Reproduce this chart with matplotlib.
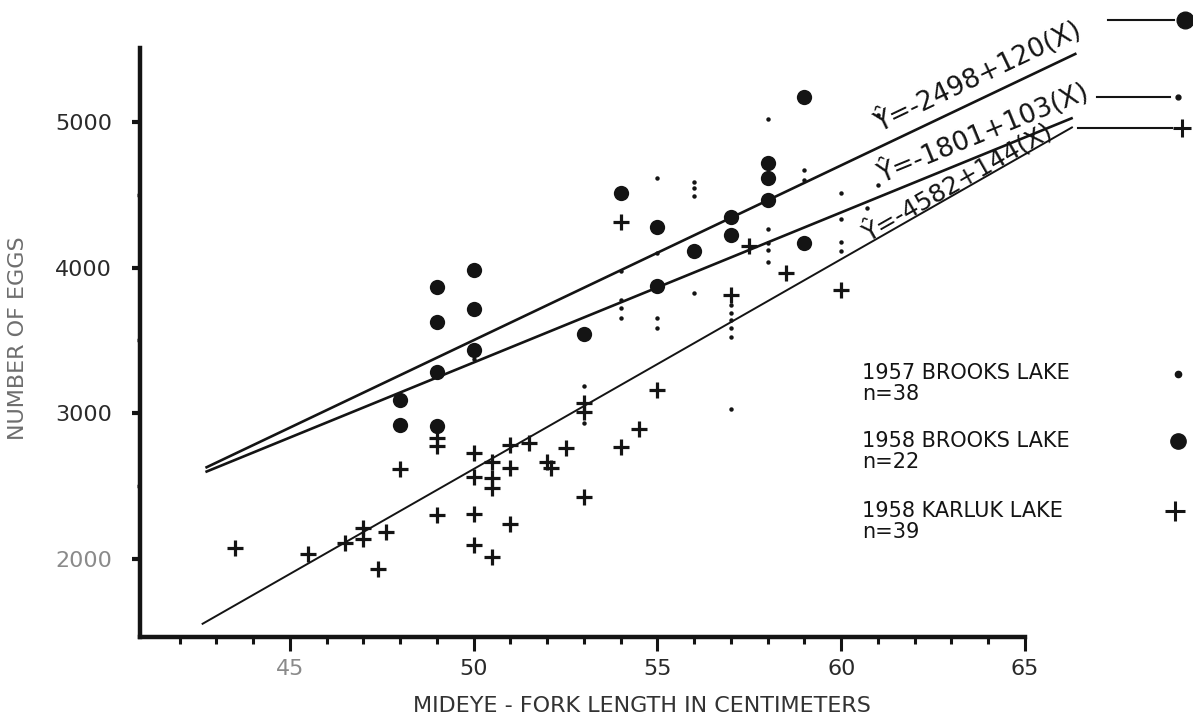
import numpy as np
import matplotlib
matplotlib.use('Agg')
import matplotlib.pyplot as plt

# 1957 Brooks Lake (small dots)
brooks57_len = [55, 56, 56, 56, 58, 59, 60, 61, 61, 58, 58, 58, 58, 60, 60, 60, 60.7,
                56, 57, 57, 57, 57, 57, 57, 54, 54, 55, 55, 53, 53, 54, 55, 54, 59, 50]
brooks57_eggs = [4615, 4590, 4545, 4490, 5020, 4670, 4512, 4567, 5050, 4265, 4169, 4121,
                 4038, 4334, 4176, 4114, 4410, 3825, 3745, 3690, 3640, 3585, 3525, 3030,
                 3722, 3654, 3654, 3586, 3187, 2933, 3980, 4100, 3780, 4600, 3370]

# 1958 Brooks Lake (large dots)
brooks58_len = [48, 48, 49, 49, 49, 49, 50, 50, 50, 53, 54, 55, 55, 56, 57, 57, 58, 58, 58, 59, 59]
brooks58_eggs = [3091, 2920, 3867, 3627, 3283, 2913, 3983, 3716, 3434, 3544, 4512, 4279,
                 3874, 4114, 4347, 4224, 4718, 4615, 4464, 5171, 4169]

# 1958 Karluk Lake (crosses)
karluk58_len = [43.5, 45.5, 46.5, 47.0, 47.0, 47.6, 47.4, 48.0, 49.0, 49.0, 49.0, 50.0, 50.0,
                50.0, 50.0, 50.5, 50.5, 50.5, 50.5, 51.0, 51.5, 51.0, 51.0, 52.0, 52.1, 52.5,
                53.0, 53.0, 53.0, 54.0, 54.5, 55.0, 54.0, 57.5, 58.5, 57.0, 60.0]
karluk58_eggs = [2075, 2035, 2110, 2213, 2137, 2185, 1930, 2618, 2302, 2830, 2775, 2727, 2563,
                 2309, 2096, 2014, 2666, 2556, 2487, 2782, 2796, 2625, 2240, 2666, 2625, 2762,
                 3071, 3009, 2425, 2769, 2892, 3160, 4313, 4148, 3963, 3812, 3846]

# regression lines  Y = a + b*X
fit_labels = ["Ŷ=-2498+120(X)", "Ŷ=-1801+103(X)", "Ŷ=-4582+144(X)"]
fit_a = [-2498, -1801, -4582]
fit_b = [120, 103, 144]

legend_names = ["1957 BROOKS LAKE", "1958 BROOKS LAKE", "1958 KARLUK LAKE"]
legend_n = ["n=38", "n=22", "n=39"]

W, H = 1193, 721
fig = plt.figure(figsize=(W / 100, H / 100), dpi=100)
ax = fig.add_axes([140 / W, (H - 637) / H, 885 / W, 589 / H])
ax.set_xlim(40.92, 65)
ax.set_ylim(1465, 5507)

ink = '#141414'

ax.plot(brooks57_len, brooks57_eggs, 'o', ms=3.2, color=ink, mew=0)
ax.plot(brooks58_len, brooks58_eggs, 'o', ms=11, color=ink, mew=0)
ax.plot(karluk58_len, karluk58_eggs, '+', ms=12, mew=2.3, color=ink)

line_x = [(42.7, 66.4), (42.7, 66.3), (42.6, 66.3)]
line_w = [1.9, 1.9, 1.4]
label_x = [61.05, 61.1, 60.75]
label_off = [100, 85, 5]
label_size = [19, 19, 18]
for a, b, (x0, x1), lw, lab, lx, off, fs in zip(fit_a, fit_b, line_x, line_w, fit_labels,
                                               label_x, label_off, label_size):
    xs = np.array([x0, x1])
    ax.plot(xs, a + b * xs, color=ink, lw=lw, clip_on=False, solid_capstyle='butt')
    ly = a + b * lx + off
    ang = ax.transData.transform_angles(np.array([np.degrees(np.arctan(b))]),
                                        np.array([[lx, ly]]))[0]
    ax.text(lx, ly, lab, rotation=ang, rotation_mode='anchor', ha='left', va='baseline',
            fontsize=fs, color=ink)

# leader lines from each equation to its symbol
ax.plot([67.25, 69.05], [5699, 5699], color=ink, lw=1.5, clip_on=False)
ax.plot([69.35], [5699], 'o', ms=12, color=ink, clip_on=False)
ax.plot([66.95, 68.95], [5171, 5171], color=ink, lw=1.5, clip_on=False)
ax.plot([69.15], [5171], 'o', ms=3.5, color=ink, clip_on=False)
ax.plot([66.45, 69.0], [4958, 4958], color=ink, lw=1.5, clip_on=False)
ax.plot([69.27], [4958], '+', ms=13, mew=2.2, color=ink, clip_on=False)

# legend block
rows = [373, 441, 511]
for name, n, r in zip(legend_names, legend_n, rows):
    fig.text(862 / W, 1 - r / H, name, fontsize=15, color=ink, va='center', ha='left')
    fig.text(862 / W, 1 - (r + 21) / H, n, fontsize=15, color=ink, va='center', ha='left')
fig.lines.append(plt.Line2D([1178 / W], [1 - 374 / H], marker='o', ms=4.5, color=ink,
                            transform=fig.transFigure))
fig.lines.append(plt.Line2D([1178 / W], [1 - 441 / H], marker='o', ms=11, color=ink,
                            transform=fig.transFigure))
fig.lines.append(plt.Line2D([1175 / W], [1 - 511 / H], marker='+', ms=14, mew=2.2, color=ink,
                            transform=fig.transFigure))

for s in ['top', 'right']:
    ax.spines[s].set_visible(False)
ax.spines['left'].set_linewidth(3.2)
ax.spines['bottom'].set_linewidth(3.2)
ax.spines['left'].set_color(ink)
ax.spines['bottom'].set_color(ink)

ax.set_xticks([45, 50, 55, 60, 65])
ax.set_xticks(range(42, 65), minor=True)
ax.set_yticks([2000, 3000, 4000, 5000])
ax.set_yticks([2500, 3500, 4500], minor=True)
ax.tick_params(axis='x', which='major', length=10, width=2.2, pad=6, labelsize=16,
               colors=ink, labelcolor='#2a2a2a')
ax.tick_params(axis='x', which='minor', length=5, width=2.2, colors=ink)
ax.tick_params(axis='y', which='major', length=6, width=3, pad=14, labelsize=16,
               colors=ink, labelcolor='#2a2a2a')
ax.tick_params(axis='y', which='minor', length=2.5, width=2.5, colors=ink)
ax.get_xticklabels()[0].set_color('#8a8a8a')
ax.get_yticklabels()[0].set_color('#8a8a8a')

fig.text(642 / W, 1 - 706 / H, "MIDEYE - FORK LENGTH IN CENTIMETERS", fontsize=16,
         color='#333333', ha='center', va='center')
fig.text(18 / W, 1 - 338 / H, "NUMBER OF EGGS", fontsize=16, color='#6e6e6e',
         rotation=90, ha='center', va='center')

fig.savefig('out.png', dpi=100)
